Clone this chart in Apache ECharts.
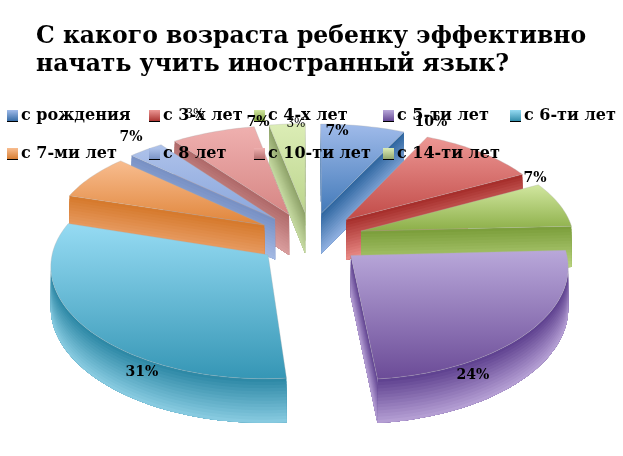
<!DOCTYPE html>
<html>
<head>
<meta charset="utf-8">
<title>chart</title>
<script src="https://cdn.jsdelivr.net/npm/echarts@6/dist/echarts.min.js"></script>
<style>
html,body{margin:0;padding:0;background:#fff}
#main{width:623px;height:456px}
</style>
</head>
<body>
<div id="main"></div>
<script>
var names = ['с рождения', 'с 3-х лет', 'с 4-х лет', 'с 5-ти лет', 'с 6-ти лет', 'с 7-ми лет', 'с 8 лет', 'с 10-ти лет', 'с 14-ти лет'];
var values = [7, 10, 7, 24, 31, 7, 3, 7, 3];

// top face light/dark, wall dark/light
var topColors = [['#a0bbea', '#437ab9'], ['#ec9794', '#c24b48'], ['#d2e7a0', '#8bae47'], ['#b9a8da', '#6b4b97'], ['#96dbf3', '#3596b5'], ['#f8bd90', '#e0853a'], ['#aec2ea', '#8aa6dc'], ['#efb0af', '#d68684'], ['#dcedb6', '#bcd58e']];
var wallColors = [['#2d659f', '#92b2e2'], ['#a52c29', '#ea8c88'], ['#7a9d39', '#b9d380'], ['#5d3f8e', '#b7a2d6'], ['#2b87a4', '#8accE2'], ['#d5782a', '#eea876'], ['#7790c3', '#a4b9e4'], ['#ae6868', '#da9e9e'], ['#8da167', '#c6daa2']];

// paint order, back to front
var paintOrder = [8, 7, 6, 0, 1, 2, 5, 4, 3];
var legendLeft = [6, 148, 253, 382, 509, 6, 148, 253, 382];
var legendTop = [108, 108, 108, 108, 108, 146, 146, 146, 146];
var labelAt = [[337, 131], [431, 122], [535, 178], [473, 375], [142, 372], [131, 137], [195, 115], [258, 122], [296, 124]];
var smallLabel = [false, false, false, false, false, false, true, false, true];

var cx = 310, cy = 238, rx = 213, ry = 105, persp = 0.1176, explode = 0.25, depth = 41;
var total = 0;
for (var i = 0; i < values.length; i++) total += values[i];

function project(x, y, down) {
    var s = 1 / (1 + persp * y);
    return [cx + rx * x * Math.pow(s, 0.75), cy - ry * y * s + (down || 0) * depth * Math.sqrt(s)];
}

function mix(a, b, t) {
    var ca = echarts.color.parse(a), cb = echarts.color.parse(b);
    return 'rgb(' + Math.round(ca[0] + (cb[0] - ca[0]) * t) + ',' + Math.round(ca[1] + (cb[1] - ca[1]) * t) + ',' + Math.round(ca[2] + (cb[2] - ca[2]) * t) + ')';
}

// each strip runs to the bottom of the wall so no seams show
function strips(curve, colors, out) {
    var n = 14;
    for (var k = 0; k < n; k++) {
        var pts = [];
        for (var a = 0; a < curve.length; a++) pts.push(project(curve[a][0], curve[a][1], k / n));
        for (var b = curve.length - 1; b >= 0; b--) pts.push(project(curve[b][0], curve[b][1], 1));
        out.push({type: 'polygon', shape: {points: pts}, style: {fill: mix(colors[0], colors[1], (k + 0.5) / n)}});
    }
}

function renderSlice(idx) {
    return function (params, api) {
        var before = 0;
        for (var i = 0; i < idx; i++) before += values[i];
        var a0 = before / total * Math.PI * 2;
        var a1 = a0 + api.value(0) / total * Math.PI * 2;
        var mid = (a0 + a1) / 2;
        var ax = explode * Math.sin(mid), ay = explode * Math.cos(mid);
        var arc = [];
        var steps = Math.max(6, Math.round((a1 - a0) / 0.03));
        for (var k = 0; k <= steps; k++) {
            var t = a0 + (a1 - a0) * k / steps;
            arc.push([ax + Math.sin(t), ay + Math.cos(t)]);
        }
        var apex = [ax, ay];
        var children = [];
        var A = project(ax, ay);
        var P = project(ax + Math.sin(mid), ay + Math.cos(mid));

        // cut faces, only where they look at the viewer
        [arc[0], arc[arc.length - 1]].forEach(function (end) {
            var B = project(end[0], end[1]);
            var c = (B[0] - A[0]) * (P[1] - A[1]) - (B[1] - A[1]) * (P[0] - A[0]);
            if (c * (B[0] - A[0]) < 0) strips([apex, end], wallColors[idx], children);
        });

        // outer wall, front part of the arc only
        var run = [];
        for (var m = 0; m < arc.length; m++) {
            var next = arc[m + 1];
            var front = next && project(next[0], next[1])[0] < project(arc[m][0], arc[m][1])[0];
            if (front) {
                if (!run.length) run.push(arc[m]);
                run.push(next);
            } else if (run.length) {
                strips(run, wallColors[idx], children);
                run = [];
            }
        }

        var top = [A];
        for (var q = 0; q < arc.length; q++) top.push(project(arc[q][0], arc[q][1]));
        children.push({
            type: 'polygon',
            shape: {points: top},
            style: {
                fill: new echarts.graphic.LinearGradient(0, 0, 0, 1, [
                    {offset: 0, color: topColors[idx][0]},
                    {offset: 1, color: topColors[idx][1]}
                ]),
                stroke: 'rgba(170,170,170,0.5)',
                lineWidth: 0.6
            }
        });
        return {type: 'group', children: children};
    };
}

var series = [];
paintOrder.forEach(function (idx) {
    series.push({
        type: 'custom',
        name: names[idx],
        coordinateSystem: 'none',
        silent: true,
        animation: false,
        clip: false,
        data: [[values[idx]]],
        renderItem: renderSlice(idx)
    });
});

// percent labels
series.push({
    type: 'custom',
    coordinateSystem: 'none',
    silent: true,
    animation: false,
    z: 6,
    data: values.map(function (v) { return [v]; }),
    renderItem: function (params, api) {
        var i = params.dataIndex;
        return {
            type: 'text',
            style: {
                x: labelAt[i][0],
                y: labelAt[i][1],
                text: api.value(0) + '%',
                align: 'center',
                verticalAlign: 'middle',
                fill: '#000',
                font: (smallLabel[i] ? 'normal 12px' : 'bold 14px') + ' "DejaVu Serif"'
            }
        };
    }
});

var legends = [], marks = [];
names.forEach(function (name, i) {
    legends.push({
        left: legendLeft[i] + 1,
        top: legendTop[i],
        data: [name],
        icon: 'rect',
        itemWidth: 11,
        itemHeight: 12,
        itemGap: 0,
        padding: 0,
        selectedMode: false,
        itemStyle: {
            color: new echarts.graphic.LinearGradient(0, 0, 0, 1, [
                {offset: 0, color: topColors[i][0]},
                {offset: 1, color: wallColors[i][0]}
            ])
        },
        textStyle: {
            fontFamily: 'DejaVu Serif',
            fontWeight: 'bold',
            fontSize: 16,
            color: '#000',
            padding: [0, 0, 0, -2]
        }
    });
    marks.push({
        type: 'rect',
        z: 7,
        shape: {x: legendLeft[i] + 1, y: legendTop[i] + 13, width: 11, height: 1},
        style: {fill: '#000'}
    });
});

var chart = echarts.init(document.getElementById('main'));
chart.setOption({
    animation: false,
    backgroundColor: '#fff',
    title: {
        text: 'С какого возраста ребенку эффективно\nначать учить иностранный язык?',
        left: 36,
        top: 23,
        padding: 0,
        textStyle: {
            fontFamily: 'DejaVu Serif',
            fontWeight: 'bold',
            fontSize: 23.5,
            lineHeight: 28,
            color: '#000'
        }
    },
    legend: legends,
    graphic: marks,
    series: series
});
</script>
</body>
</html>
